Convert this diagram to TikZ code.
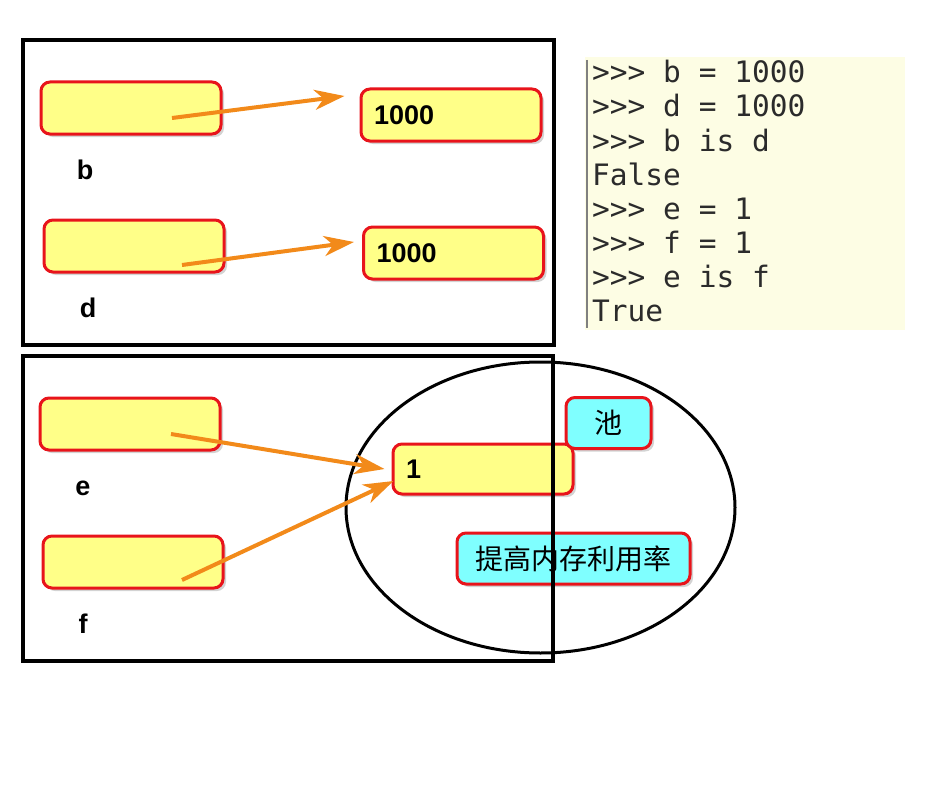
\documentclass[tikz,border=0pt]{standalone}
\usepackage{fontspec}
\setmainfont{Liberation Sans}
\setmonofont{DejaVu Sans Mono}
\newfontfamily\cjk{Noto Sans CJK SC}
\usetikzlibrary{arrows.meta, shadows, shapes.geometric}

\definecolor{boxyellow}{HTML}{FFFF88}
\definecolor{boxred}{HTML}{E8141B}
\definecolor{poolcyan}{HTML}{7FFFFF}
\definecolor{refarrow}{HTML}{F28A1A}
\definecolor{codebg}{HTML}{FDFDE4}
\definecolor{codetext}{HTML}{2B2B2B}

\begin{document}
\begin{tikzpicture}[x=1pt, y=-1pt,
        var/.style={draw=boxred, line width=3pt, fill=boxyellow, rounded corners=9pt,
            minimum width=180pt, minimum height=52pt,
            drop shadow={shadow xshift=3pt, shadow yshift=-3pt, opacity=0.35}},
        val/.style={var, font=\fontsize{27}{30}\selectfont\bfseries, align=left,
            text width=154pt, inner xsep=13pt},
        tag/.style={draw=boxred, line width=3pt, fill=poolcyan, rounded corners=9pt,
            minimum height=51pt, font=\cjk\fontsize{28}{30}\selectfont,
            drop shadow={shadow xshift=3pt, shadow yshift=-3pt, opacity=0.35}},
        lbl/.style={font=\fontsize{27}{30}\selectfont\bfseries},
        code/.style={font=\ttfamily\fontsize{29.5}{34}\selectfont, text=codetext,
            inner sep=0pt, anchor=base west},
        ref/.style={draw=refarrow, line width=4pt,
            -{Stealth[length=30pt, width=20pt, inset=9pt]}},
        frame/.style={draw, line width=4pt}]
    \useasboundingbox (0,0) rectangle (932,800);

    % b and d: two objects
    \node[var] (b) at (131,108) {};
    \node[lbl] (b-name) at (85,170) {b};
    \node[val] (bv) at (451,115) {1000};

    \node[var] (d) at (134,246) {};
    \node[lbl] (d-name) at (88,308) {d};
    \node[val] (dv) at (453.5,253) {1000};

    \coordinate (b-tail) at ([shift={(41,10)}]b.center);
    \coordinate (b-head) at ([shift={(-15,-19)}]bv.west);
    \draw[ref] (b-tail) -- (b-head);
    \coordinate (d-tail) at ([shift={(48,19)}]d.center);
    \coordinate (d-head) at ([shift={(-8,-11)}]dv.west);
    \draw[ref] (d-tail) -- (d-head);

    % e and f: one object from the pool
    \node[draw, ellipse, line width=3pt, minimum width=389pt, minimum height=291pt]
        (pool) at (540.5,507.5) {};

    \node[var] (e) at (130,424) {};
    \node[lbl] (e-name) at (83,488) {e};
    \node[var] (f) at (133,562) {};
    \node[lbl] (f-name) at (83,624) {f};
    \node[val, minimum height=50pt] (one) at (483,469) {1};

    \node[tag, minimum width=85pt] (pool-tag) at (608.5,423) {池};
    \node[tag, minimum width=233pt] (use-tag) at (573.5,558.5) {提高内存利用率};

    \coordinate (e-tail) at ([shift={(41,10)}]e.center);
    \coordinate (e-head) at ([shift={(-7,0)}]one.west);
    \draw[ref] (e-tail) -- (e-head);
    \coordinate (f-tail) at ([shift={(49,18)}]f.center);
    \coordinate (f-head) at ([shift={(2,12)}]one.west);
    \draw[ref] (f-tail) -- (f-head);

    \draw[frame] (23,40) rectangle (554,345);
    \draw[frame] (23,356) rectangle (553,661);

    % shell session
    \fill[codebg] (585,57) rectangle (905,330);
    \draw[gray, line width=1.5pt] (587,60) -- (587,328);
    \foreach \txt [count=\i] in {>>> b = 1000, >>> d = 1000, >>> b is d, False,
            >>> e = 1, >>> f = 1, >>> e is f, True}
        \node[code] (line\i) at (592,49+34*\i) {\txt};
\end{tikzpicture}
\end{document}
